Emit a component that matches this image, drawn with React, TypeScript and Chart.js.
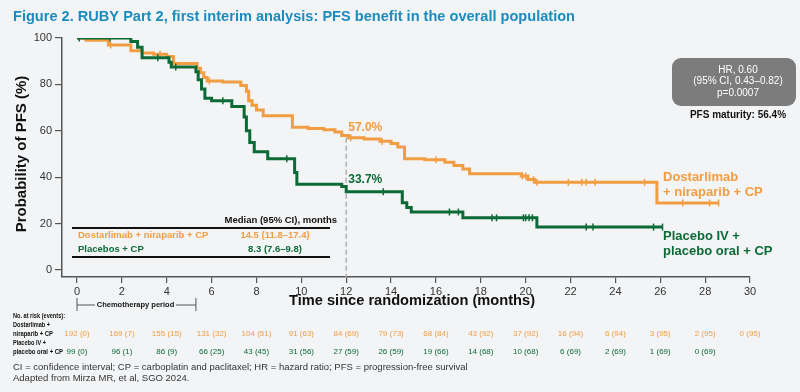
import React, { useEffect, useRef } from "react";
import { Chart, registerables } from "chart.js";

Chart.register(...registerables);

const TITLE = "Figure 2. RUBY Part 2, first interim analysis: PFS benefit in the overall population";
const X_TITLE = "Time since randomization (months)";
const Y_TITLE = "Probability of PFS (%)";

const xTicks = [0, 2, 4, 6, 8, 10, 12, 14, 16, 18, 20, 22, 24, 26, 28, 30];
const yTicks = [0, 20, 40, 60, 80, 100];

// Kaplan–Meier step points: at time t the curve drops to value s
const dostTimes = [0, 0.4, 1.4, 2.4, 2.9, 3.4, 4.0, 4.3, 5.35, 5.5, 5.65, 5.8, 6.5, 7.3, 7.55, 7.65, 7.8, 8.0, 8.3, 9.6, 10.3, 11.0, 11.5, 11.8, 12.1, 12.8, 13.5, 14.0, 14.3, 14.6, 15.5, 16.4, 16.8, 17.2, 17.5, 19.8, 20.1, 20.4, 25.85, 28.6];
const dostSurv = [100, 99, 97, 94.5, 93.5, 93, 92, 89, 87, 85, 83, 81.5, 81, 79.5, 77, 73, 71, 69, 66.5, 61.5, 61, 60.5, 59.5, 58, 57, 56.5, 55.5, 54.5, 53, 48, 47.5, 46.5, 45, 43.5, 41.5, 40.5, 39, 37.8, 28.9, 28.9];

const placTimes = [0, 2.4, 2.7, 2.9, 4.1, 4.2, 5.3, 5.4, 5.55, 5.7, 6.0, 6.9, 7.45, 7.55, 7.7, 7.9, 8.5, 9.7, 9.8, 11.8, 12.0, 14.5, 14.7, 14.9, 17.2, 20.5, 26.1];
const placSurv = [100, 98.5, 96, 91.5, 89.5, 87.5, 85.5, 82, 78, 74, 73, 70.5, 66, 60, 55, 51, 48, 42, 37, 36, 33.7, 29, 27, 25, 22.5, 18.5, 18.5];

const dostCensor = [1.5, 3.7, 5.9, 12.2, 13.6, 16.0, 19.85, 20.0, 20.35, 20.5, 21.9, 22.5, 22.7, 23.1, 25.3, 27.0, 28.2, 28.6];
const placCensor = [0.1, 1.47, 3.6, 4.4, 6.5, 9.35, 13.65, 16.6, 17.0, 18.5, 18.7, 19.9, 20.0, 20.15, 20.3, 22.7, 23.0, 25.7, 26.1];

const dostAtRisk = ["192 (0)", "169 (7)", "155 (15)", "131 (32)", "104 (51)", "91 (63)", "84 (69)", "79 (73)", "68 (84)", "43 (92)", "37 (92)", "16 (94)", "6 (94)", "3 (95)", "2 (95)", "0 (95)"];
const placAtRisk = ["99 (0)", "96 (1)", "86 (9)", "66 (25)", "43 (45)", "31 (56)", "27 (59)", "26 (59)", "19 (66)", "14 (68)", "10 (68)", "6 (69)", "2 (69)", "1 (69)", "0 (69)"];

const landmarkMonth = 12;
const dostLandmark = 57.0;
const placLandmark = 33.7;
const chemoPeriodEnd = 5.3;

const ORANGE = "#F29D42";
const GREEN = "#0B6A35";
const FONT = "'Liberation Sans', Arial, Helvetica, sans-serif";

function stepValue(times: number[], surv: number[], t: number) {
  let v = surv[0];
  for (let i = 0; i < times.length; i++) {
    if (times[i] <= t) v = surv[i];
  }
  return v;
}

function txt(ctx: CanvasRenderingContext2D, s: string, x: number, y: number, font: string, color: string, align: CanvasTextAlign = "left", maxW?: number) {
  ctx.font = font;
  ctx.fillStyle = color;
  ctx.textAlign = align;
  ctx.textBaseline = "middle";
  if (maxW) ctx.fillText(s, x, y, maxW);
  else ctx.fillText(s, x, y);
}

const decorPlugin = {
  id: "decor",
  beforeDraw(chart: any) {
    const ctx = chart.ctx;
    ctx.save();
    ctx.fillStyle = "#F3F4F6";
    ctx.fillRect(0, 0, chart.width, chart.height);
    ctx.restore();
  },
  beforeDatasetsDraw(chart: any) {
    const ctx = chart.ctx as CanvasRenderingContext2D;
    const xs = chart.scales.x;
    const ys = chart.scales.y;
    ctx.save();
    ctx.strokeStyle = "#AFAFAF";
    ctx.lineWidth = 1.5;
    ctx.setLineDash([5, 3]);
    ctx.beginPath();
    ctx.moveTo(xs.getPixelForValue(landmarkMonth), ys.getPixelForValue(dostLandmark));
    ctx.lineTo(xs.getPixelForValue(landmarkMonth), chart.chartArea.bottom);
    ctx.stroke();
    ctx.restore();
  },
  afterDraw(chart: any) {
    const ctx = chart.ctx as CanvasRenderingContext2D;
    const xs = chart.scales.x;
    const ys = chart.scales.y;
    const ca = chart.chartArea;
    ctx.save();

    // Title
    txt(ctx, TITLE, 13, 17, `bold 14.6px ${FONT}`, "#1A8CBF", "left", 562);

    // Axis titles
    txt(ctx, X_TITLE, (ca.left + ca.right) / 2 + 6, 301, `bold 15px ${FONT}`, "#111", "center", 246);
    ctx.save();
    ctx.translate(22, 154);
    ctx.rotate(-Math.PI / 2);
    txt(ctx, Y_TITLE, 0, 0, `bold 15px ${FONT}`, "#111", "center", 172);
    ctx.restore();

    // Landmark labels
    const lx = xs.getPixelForValue(landmarkMonth) + 2;
    txt(ctx, dostLandmark.toFixed(1) + "%", lx, ys.getPixelForValue(dostLandmark) - 10, `bold 12px ${FONT}`, ORANGE, "left");
    txt(ctx, placLandmark.toFixed(1) + "%", lx, ys.getPixelForValue(placLandmark) - 12, `bold 12px ${FONT}`, GREEN, "left");

    // Median table
    txt(ctx, "Median (95% CI), months", 337, 220, `bold 9.5px ${FONT}`, "#111", "right");
    ctx.strokeStyle = "#111";
    ctx.lineWidth = 1.8;
    ctx.setLineDash([]);
    ctx.beginPath();
    ctx.moveTo(72, 228); ctx.lineTo(330, 228);
    ctx.moveTo(72, 257); ctx.lineTo(330, 257);
    ctx.stroke();
    txt(ctx, "Dostarlimab + niraparib + CP", 78, 235, `bold 9.5px ${FONT}`, ORANGE, "left");
    txt(ctx, "14.5 (11.8–17.4)", 275, 235, `bold 9.5px ${FONT}`, ORANGE, "center");
    txt(ctx, "Placebos + CP", 78, 249, `bold 9.5px ${FONT}`, GREEN, "left");
    txt(ctx, "8.3 (7.6–9.8)", 275, 249, `bold 9.5px ${FONT}`, GREEN, "center");

    // HR box
    ctx.fillStyle = "#7C7C7C";
    ctx.beginPath();
    (ctx as any).roundRect(672, 58, 124, 48, 9);
    ctx.fill();
    txt(ctx, "HR, 0.60", 738, 70, `10px ${FONT}`, "#fff", "center");
    txt(ctx, "(95% CI, 0.43–0.82)", 738, 81, `10px ${FONT}`, "#fff", "center");
    txt(ctx, "p=0.0007", 738, 93, `10px ${FONT}`, "#fff", "center");
    txt(ctx, "PFS maturity: 56.4%", 738, 115, `bold 10px ${FONT}`, "#111", "center");

    // Curve end labels
    txt(ctx, "Dostarlimab", 663, 177, `bold 13px ${FONT}`, ORANGE, "left");
    txt(ctx, "+ niraparib + CP", 663, 192, `bold 13px ${FONT}`, ORANGE, "left");
    txt(ctx, "Placebo IV +", 663, 236, `bold 13px ${FONT}`, GREEN, "left");
    txt(ctx, "placebo oral + CP", 663, 251, `bold 13px ${FONT}`, GREEN, "left");

    // Chemotherapy period bracket
    const c0 = xs.getPixelForValue(0);
    const c1 = xs.getPixelForValue(chemoPeriodEnd);
    ctx.strokeStyle = "#555";
    ctx.lineWidth = 1;
    ctx.beginPath();
    ctx.moveTo(c0, 298); ctx.lineTo(c0, 311);
    ctx.moveTo(c1, 298); ctx.lineTo(c1, 311);
    ctx.moveTo(c0, 305); ctx.lineTo(c0 + 18, 305);
    ctx.moveTo(c1 - 20, 305); ctx.lineTo(c1, 305);
    ctx.stroke();
    txt(ctx, "Chemotherapy period", (c0 + c1) / 2 - 1, 305, `bold 7.5px ${FONT}`, "#111", "center");

    // At-risk table
    const lf = `bold 7px ${FONT}`;
    txt(ctx, "No. at risk (events):", 13, 316, lf, "#111", "left", 52);
    txt(ctx, "Dostarlimab +", 13, 325, lf, "#111", "left", 37);
    txt(ctx, "niraparib + CP", 13, 334, lf, "#111", "left", 40);
    txt(ctx, "Placebo IV +", 13, 343, lf, "#111", "left", 33);
    txt(ctx, "placebo oral + CP", 13, 352, lf, "#111", "left", 50);
    dostAtRisk.forEach((s, i) => txt(ctx, s, xs.getPixelForValue(xTicks[i]), 334, `8px ${FONT}`, ORANGE, "center"));
    placAtRisk.forEach((s, i) => txt(ctx, s, xs.getPixelForValue(xTicks[i]), 352, `8px ${FONT}`, GREEN, "center"));

    // Footer
    txt(ctx, "CI = confidence interval; CP = carboplatin and paclitaxel; HR = hazard ratio; PFS = progression-free survival", 13, 367, `9.5px ${FONT}`, "#333", "left", 466);
    txt(ctx, "Adapted from Mirza MR, et al, SGO 2024.", 13, 378, `9.5px ${FONT}`, "#333", "left");

    ctx.restore();
  },
};

export default function App() {
  const ref = useRef<HTMLCanvasElement>(null);
  useEffect(() => {
    const canvas = ref.current!;
    const chart = new Chart(canvas, {
      type: "line",
      data: {
        datasets: [
          {
            label: "Placebo IV + placebo oral + CP",
            data: placTimes.map((t, i) => ({ x: t, y: placSurv[i] })),
            borderColor: GREEN,
            borderWidth: 3,
            stepped: true,
            pointRadius: 0,
            fill: false,
          },
          {
            label: "Placebo censored",
            data: placCensor.map((t) => ({ x: t, y: stepValue(placTimes, placSurv, t) })),
            showLine: false,
            pointStyle: "line",
            rotation: 90,
            pointRadius: 3.5,
            borderColor: GREEN,
            backgroundColor: GREEN,
            borderWidth: 1.5,
          },
          {
            label: "Dostarlimab + niraparib + CP",
            data: dostTimes.map((t, i) => ({ x: t, y: dostSurv[i] })),
            borderColor: ORANGE,
            borderWidth: 3,
            stepped: true,
            pointRadius: 0,
            fill: false,
          },
          {
            label: "Dostarlimab censored",
            data: dostCensor.map((t) => ({ x: t, y: stepValue(dostTimes, dostSurv, t) })),
            showLine: false,
            pointStyle: "line",
            rotation: 90,
            pointRadius: 3.5,
            borderColor: ORANGE,
            backgroundColor: ORANGE,
            borderWidth: 1.5,
          },
        ] as any,
      },
      options: {
        responsive: false,
        animation: false,
        devicePixelRatio: 1,
        layout: { padding: { left: 0, top: 38, right: 50, bottom: 95 } },
        plugins: { legend: { display: false }, tooltip: { enabled: false } },
        scales: {
          x: {
            type: "linear",
            min: -0.67,
            max: 30,
            afterBuildTicks: (s: any) => {
              s.ticks = xTicks.map((v) => ({ value: v }));
            },
            afterFit: (s: any) => {
              s.height = 20;
            },
            grid: { display: true, drawOnChartArea: false, drawTicks: true, tickLength: 6, color: "#555", lineWidth: 1.2 },
            border: { display: true, color: "#555", width: 1.5 },
            ticks: { color: "#333", font: { family: FONT, size: 11 }, padding: 2, maxRotation: 0, autoSkip: false },
          },
          y: {
            type: "linear",
            min: -3,
            max: 100,
            afterBuildTicks: (s: any) => {
              s.ticks = yTicks.map((v) => ({ value: v }));
            },
            afterFit: (s: any) => {
              s.width = 62;
            },
            grid: { display: true, drawOnChartArea: false, drawTicks: true, tickLength: 7, color: "#555", lineWidth: 1.2 },
            border: { display: true, color: "#555", width: 1.5 },
            ticks: { color: "#333", font: { family: FONT, size: 11 }, padding: 3, autoSkip: false },
          },
        },
      } as any,
      plugins: [decorPlugin as any],
    });
    return () => chart.destroy();
  }, []);
  return (
    <div style={{ position: "fixed", left: 0, top: 0, width: 800, height: 392 }}>
      <canvas ref={ref} width={800} height={392} style={{ display: "block", width: 800, height: 392 }} />
    </div>
  );
}
